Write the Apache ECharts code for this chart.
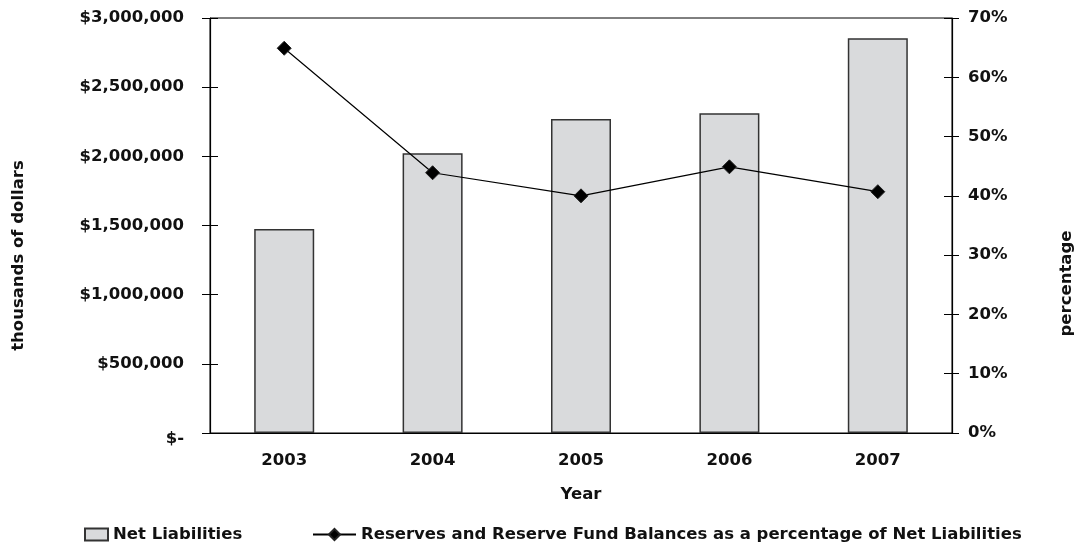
<!DOCTYPE html>
<html lang="en">
<head>
    <meta charset="UTF-8">
    <title>Net Liabilities</title>
    <style>
        html, body { margin: 0; padding: 0; background: #fff; }
        #chart { width: 1079px; height: 549px; }
    </style>
</head>
<body>
<div id="chart"></div>

<script type="text/javascript" src="https://cdn.jsdelivr.net/npm/echarts@6/dist/echarts.min.js"></script>
<script>
    // data
    var years = ['2003', '2004', '2005', '2006', '2007'];
    var netLiabilities = [1475000, 2022000, 2270000, 2311000, 2853000];
    var reservePct = [64.9, 43.9, 40.0, 44.9, 40.7];
    var dollarMax = 3000000, dollarStep = 500000;
    var pctMax = 70, pctStep = 10;

    var font = '"DejaVu Sans", "Liberation Sans", sans-serif';
    var txt = { fontFamily: font, fontSize: 16.5, fontWeight: 'bold', color: '#111' };

    function dollars(v) {
        if (v === 0) return '{z|$-}';
        return '$' + v.toLocaleString('en-US');
    }

    var chart = echarts.init(document.getElementById('chart'));

    var option = {
        animation: false,
        grid: {
            left: 210, right: 127, top: 18, bottom: 116,
            outerBoundsMode: 'none',
            show: true, borderColor: '#000', borderWidth: 1, backgroundColor: 'transparent'
        },
        legend: [
            {
                data: [{ name: 'Net Liabilities', icon: 'rect' }],
                left: 84, top: 526, padding: 0,
                itemWidth: 23, itemHeight: 12,
                textStyle: txt
            },
            {
                data: ['Reserves and Reserve Fund Balances as a percentage of Net Liabilities'],
                left: 312, top: 526, padding: 0,
                itemWidth: 43, itemHeight: 14,
                textStyle: txt
            }
        ],
        xAxis: [
            {
                type: 'category', data: years,
                name: 'Year', nameLocation: 'middle', nameGap: 53,
                nameTextStyle: txt,
                axisLine: { lineStyle: { color: '#000', width: 1.2 } },
                axisTick: { length: 9, lineStyle: { color: '#000' } },
                axisLabel: Object.assign({ margin: 19 }, txt)
            },
            {
                type: 'category', data: years, position: 'bottom',
                axisLine: { show: false },
                axisTick: { inside: true, length: 9, lineStyle: { color: '#000' } },
                axisLabel: { show: false }
            }
        ],
        yAxis: [
            {
                type: 'value', min: 0, max: dollarMax, interval: dollarStep, position: 'left',
                name: 'thousands of dollars', nameLocation: 'middle', nameRotate: 90, nameGap: 183,
                nameTextStyle: Object.assign({ padding: [0, 60, 0, 0] }, txt),
                splitLine: { show: false },
                axisLine: { show: true, lineStyle: { color: '#000', width: 1.2 } },
                axisTick: { show: true, length: 8, lineStyle: { color: '#000' } },
                axisLabel: Object.assign({
                    margin: 26, formatter: dollars,
                    rich: { z: Object.assign({ padding: [12, 0, 0, 0] }, txt) }
                }, txt)
            },
            {
                type: 'value', min: 0, max: pctMax, interval: pctStep, position: 'right',
                name: 'percentage', nameLocation: 'middle', nameRotate: 90, nameGap: 106,
                nameTextStyle: Object.assign({ padding: [0, 116, 0, 0] }, txt),
                splitLine: { show: false },
                axisLine: { show: true, lineStyle: { color: '#000', width: 1.2 } },
                axisTick: { show: true, length: 7, lineStyle: { color: '#000' } },
                axisLabel: Object.assign({ margin: 16, formatter: '{value}%' }, txt)
            },
            {
                // inner half of the crossing ticks
                type: 'value', min: 0, max: dollarMax, interval: dollarStep, position: 'left',
                splitLine: { show: false }, axisLine: { show: false }, axisLabel: { show: false },
                axisTick: { show: true, inside: true, length: 8, lineStyle: { color: '#000' } }
            },
            {
                type: 'value', min: 0, max: pctMax, interval: pctStep, position: 'right',
                splitLine: { show: false }, axisLine: { show: false }, axisLabel: { show: false },
                axisTick: { show: true, inside: true, length: 8, lineStyle: { color: '#000' } }
            }
        ],
        series: [
            {
                name: 'Net Liabilities',
                type: 'bar',
                data: netLiabilities,
                barWidth: 60,
                itemStyle: { color: '#d9dadc', borderColor: '#333', borderWidth: 1.5 }
            },
            {
                name: 'Reserves and Reserve Fund Balances as a percentage of Net Liabilities',
                type: 'line',
                yAxisIndex: 1,
                data: reservePct,
                symbol: 'diamond',
                symbolSize: 14,
                lineStyle: { color: '#000', width: 1.2 },
                itemStyle: { color: '#000', borderColor: '#222', borderWidth: 1 }
            }
        ]
    };

    chart.setOption(option);
</script>
</body>
</html>
